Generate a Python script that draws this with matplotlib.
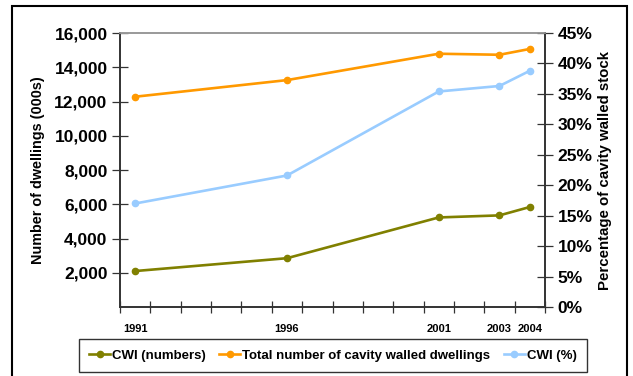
import numpy as np
import matplotlib.pyplot as plt
from matplotlib.patches import Rectangle

plt.rcParams['font.family'] = ['Liberation Sans', 'DejaVu Sans']
plt.rcParams['font.weight'] = 'bold'
plt.rcParams['axes.labelweight'] = 'bold'

years = [1991, 1996, 2001, 2003, 2004]
cwi_numbers = [2100, 2850, 5230, 5350, 5840]       # thousands
total_cavity = [12280, 13250, 14790, 14730, 15070]  # thousands
cwi_pct = [17.0, 21.6, 35.4, 36.3, 38.8]            # percent of cavity walled stock

left_ticks = list(range(2000, 16001, 2000))
right_ticks = list(range(0, 46, 5))

green = '#808000'
orange = '#FF9900'
blue = '#99CCFF'

fig = plt.figure(figsize=(6.33, 3.76), dpi=100)
ax = fig.add_axes([0.1896, 0.1835, 0.861 - 0.1896, 0.9122 - 0.1835])
ax2 = ax.twinx()

l1, = ax.plot(years, cwi_numbers, color=green, lw=1.9, marker='o', ms=4.5, label='CWI (numbers)')
l2, = ax.plot(years, total_cavity, color=orange, lw=1.9, marker='o', ms=4.5,
              label='Total number of cavity walled dwellings')
l3, = ax2.plot(years, cwi_pct, color=blue, lw=1.9, marker='o', ms=4.5, label='CWI (%)')

ax.set_xlim(1990.5, 2004.5)
ax.set_ylim(0, 16000)
ax2.set_ylim(0, 45)

ax.set_yticks(left_ticks, labels=[f'{v:,}' for v in left_ticks], fontweight='bold', fontsize=12.5)
ax2.set_yticks(right_ticks, labels=[f'{v}%' for v in right_ticks], fontweight='bold', fontsize=12.5)

ax.set_xticks(years, labels=[str(y) for y in years], fontweight='bold', fontsize=8)
ax.set_xticks(np.arange(1990.5, 2004.6, 1), minor=True)
ax.tick_params(axis='x', which='major', length=0, pad=12)
ax.tick_params(axis='x', which='minor', direction='inout', length=9, width=0.9, color='#333333')
ax.tick_params(axis='y', direction='inout', length=12, width=0.9, pad=3, color='#333333')
ax2.tick_params(axis='y', direction='inout', length=12, width=0.9, pad=3, color='#333333')

for a in (ax, ax2):
    a.spines['top'].set_color('#999999')
    a.spines['top'].set_linewidth(1.2)
    for s in ('left', 'right', 'bottom'):
        a.spines[s].set_color('#333333')
        a.spines[s].set_linewidth(1.2)

ax.set_ylabel('Number of dwellings (000s)', fontsize=10.4, fontweight='bold', labelpad=7)
ax2.set_ylabel('Percentage of cavity walled stock', fontsize=10.8, fontweight='bold', labelpad=4)

leg = fig.legend(handles=[l1, l2, l3], loc='center', bbox_to_anchor=(0.526, 0.0545), ncol=3,
                 prop={'size': 9.5, 'weight': 'bold'}, frameon=True, fancybox=False,
                 edgecolor='black', handlelength=1.6, columnspacing=1.0, handletextpad=0.15,
                 borderpad=0.8)
leg.get_frame().set_linewidth(1.0)

# outer border around the whole chart
fig.patches.append(Rectangle((12 / 633, -0.02), (627 - 12) / 633, 1 - 6 / 376 + 0.02,
                             transform=fig.transFigure, fill=False, edgecolor='black', lw=1.5))

fig.savefig('out.png', dpi=100)
